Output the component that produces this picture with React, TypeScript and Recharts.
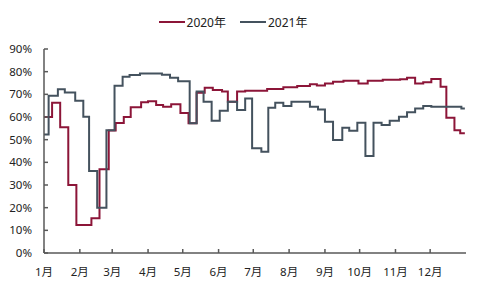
import React from 'react';
import { LineChart, Line, XAxis, YAxis, Legend } from 'recharts';

// day of year where each weekly value starts, and the value (%)
const days2020 = [0, 7, 14, 21, 28, 41, 48, 56, 62, 69, 75, 84, 90, 97, 103, 110, 118, 125, 132, 139, 146, 154, 159, 167, 174, 193, 207, 219, 230, 236, 243, 250, 259, 272, 280, 293, 308, 314, 321, 328, 335, 343, 348, 355, 360, 364];
const values2020 = [60, 66.3, 55.5, 30, 12.3, 15.3, 37, 54, 57.3, 60, 64.3, 66.5, 67, 65.3, 64.5, 65.6, 61.8, 57.2, 70.7, 72.9, 71.9, 71.2, 66.7, 71.2, 71.6, 72.3, 73.1, 73.7, 74.4, 73.9, 74.8, 75.6, 76, 74.8, 76, 76.4, 76.7, 77.3, 74.8, 75.3, 76.8, 73.4, 59.7, 54.2, 52.8, 52.8];

const days2021 = [0, 4, 12, 18, 27, 34, 39, 46, 54, 61, 68, 74, 83, 102, 109, 116, 126, 132, 138, 145, 152, 159, 167, 174, 180, 188, 194, 200, 207, 214, 230, 237, 243, 250, 258, 264, 271, 278, 285, 292, 299, 307, 314, 321, 328, 335, 361, 364];
const values2021 = [52.3, 69.4, 72.2, 70.8, 67.2, 60.1, 36.2, 20, 54.2, 73.8, 77.8, 78.5, 79.2, 78.6, 77.3, 75.8, 57.2, 71.2, 66.7, 58.4, 62.8, 66.7, 63.1, 68.2, 46.2, 44.7, 64.1, 66.3, 64.8, 66.7, 64.5, 63.3, 57.9, 49.8, 55.3, 53.9, 57.5, 42.8, 57.5, 56.5, 58.4, 60.1, 62.1, 63.8, 64.8, 64.5, 63.8, 63.8];

const monthTicks = [0, 31, 59, 90, 120, 151, 181, 212, 243, 273, 304, 334];
const monthLabels = ['1月', '2月', '3月', '4月', '5月', '6月', '7月', '8月', '9月', '10月', '11月', '12月'];
const percentTicks = [0, 10, 20, 30, 40, 50, 60, 70, 80, 90];

const series2020 = days2020.map((day, i) => ({ day, value: values2020[i] }));
const series2021 = days2021.map((day, i) => ({ day, value: values2021[i] }));

const RED = '#8c1538';
const GRAY = '#44525e';
const AXIS = '#595959';
const FONT = '"Noto Sans", "Noto Sans CJK SC", sans-serif';

const WIDTH = 480;
const HEIGHT = 288;
const MARGIN = { top: 29, right: 14, bottom: 0, left: 0 };
const YAXIS_WIDTH = 44;
const XAXIS_HEIGHT = 35;
const PLOT_LEFT = MARGIN.left + YAXIS_WIDTH;
const PLOT_BOTTOM = HEIGHT - MARGIN.bottom - XAXIS_HEIGHT;

const YTick = (props: any) => {
  const { y, payload } = props;
  return (
    <g>
      <line x1={PLOT_LEFT} x2={PLOT_LEFT + 4} y1={y} y2={y} stroke={AXIS} strokeWidth={1.5} />
      <text x={PLOT_LEFT - 12} y={y} dy={4} textAnchor="end" fontSize={11.5} fill="#222" fontFamily={FONT}>
        {payload.value}%
      </text>
    </g>
  );
};

const XTick = (props: any) => {
  const { x, payload } = props;
  const label = monthLabels[monthTicks.indexOf(payload.value)];
  return (
    <g>
      <line x1={x} x2={x} y1={PLOT_BOTTOM} y2={PLOT_BOTTOM - 4} stroke={AXIS} strokeWidth={1.5} />
      <text x={x} y={PLOT_BOTTOM + 23} textAnchor="middle" fontSize={11.5} fill="#222" fontFamily={FONT}>
        {label}
      </text>
    </g>
  );
};

const renderLegend = () => {
  const items = [
    { name: '2020年', color: RED },
    { name: '2021年', color: GRAY },
  ];
  return (
    <div style={{ display: 'flex', justifyContent: 'center', gap: 14, height: 20, alignItems: 'center', fontFamily: FONT, fontSize: 12, color: '#222' }}>
      {items.map((item) => (
        <div key={item.name} style={{ display: 'flex', alignItems: 'center' }}>
          <span style={{ display: 'inline-block', width: 26, height: 2, background: item.color, marginRight: 2 }} />
          <span>{item.name}</span>
        </div>
      ))}
    </div>
  );
};

export default function App() {
  return (
    <div style={{ position: 'absolute', left: 0, top: 0, width: WIDTH, height: HEIGHT, background: '#fff' }}>
      <LineChart width={WIDTH} height={HEIGHT} margin={MARGIN}>
        <Legend verticalAlign="top" content={renderLegend} wrapperStyle={{ top: 12 }} />
        <XAxis
          type="number"
          dataKey="day"
          domain={[0, 365]}
          ticks={monthTicks}
          interval={0}
          height={XAXIS_HEIGHT}
          tick={<XTick />}
          tickLine={false}
          axisLine={{ stroke: AXIS, strokeWidth: 1.5 }}
        />
        <YAxis
          type="number"
          domain={[0, 90]}
          ticks={percentTicks}
          interval={0}
          width={YAXIS_WIDTH}
          tick={<YTick />}
          tickLine={false}
          axisLine={{ stroke: AXIS, strokeWidth: 1.5 }}
        />
        <Line data={series2020} dataKey="value" name="2020年" type="stepAfter" stroke={RED} strokeWidth={2} dot={false} isAnimationActive={false} />
        <Line data={series2021} dataKey="value" name="2021年" type="stepAfter" stroke={GRAY} strokeWidth={2} dot={false} isAnimationActive={false} />
      </LineChart>
    </div>
  );
}
